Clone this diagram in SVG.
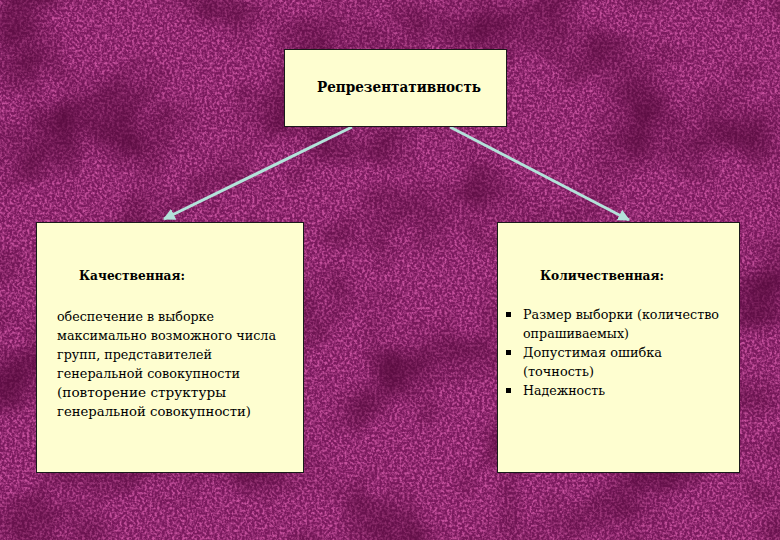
<svg xmlns="http://www.w3.org/2000/svg" width="780" height="540" viewBox="0 0 780 540">
<defs>
<filter id="tex" x="0" y="0" width="780" height="540" filterUnits="userSpaceOnUse" color-interpolation-filters="sRGB">
<feTurbulence type="fractalNoise" baseFrequency="0.4" numOctaves="2" seed="3" result="n"/>
<feColorMatrix in="n" type="matrix" values="0 0 0 0 0.78  0 0 0 0 0.32  0 0 0 0 0.62  2.8 0 0 0 -1.1" result="spk"/>
<feTurbulence type="fractalNoise" baseFrequency="0.012" numOctaves="3" seed="11" result="m"/>
<feColorMatrix in="m" type="matrix" values="0 0 0 0 0.32  0 0 0 0 0.03  0 0 0 0 0.22  1.9 0 0 0 -0.85" result="dark"/>
<feMerge><feMergeNode in="SourceGraphic"/><feMergeNode in="spk"/><feMergeNode in="dark"/></feMerge>
</filter>
<marker id="arr" viewBox="0 0 10 10" refX="9" refY="5" markerWidth="4" markerHeight="4" orient="auto" markerUnits="strokeWidth">
<path d="M0,0 L10,5 L0,10 z" fill="#b4e2da"/>
</marker>
<style>
.box{fill:#fefed0;stroke:#1a1a1a;stroke-width:1}
.conn{stroke:#b4e2da;stroke-width:3;fill:none}
.t{font-size:14px;font-weight:bold}
.h{font-size:13px;font-weight:bold}
.b{font-size:13px}
</style>
</defs>
<rect width="780" height="540" fill="#7a1a5e" filter="url(#tex)"/>
<g id="connectors">
<line class="conn" x1="352" y1="127" x2="164" y2="219" marker-end="url(#arr)"/>
<line class="conn" x1="450" y1="127" x2="629" y2="220" marker-end="url(#arr)"/>
</g>
<g fill="#000" font-family="DejaVu Serif, serif">
<g id="node-top">
<rect class="box" x="284.5" y="49.5" width="222" height="77"/>
<text class="t" x="317" y="92" textLength="164" lengthAdjust="spacingAndGlyphs">Репрезентативность</text>
</g>
<g id="node-left">
<rect class="box" x="36.5" y="222.5" width="267" height="250"/>
<text class="h" x="79" y="280" textLength="106" lengthAdjust="spacingAndGlyphs">Качественная:</text>
<text class="b" x="57" y="321" textLength="157" lengthAdjust="spacingAndGlyphs">обеспечение в выборке</text>
<text class="b" x="57" y="340" textLength="219" lengthAdjust="spacingAndGlyphs">максимально возможного числа</text>
<text class="b" x="57" y="359" textLength="155" lengthAdjust="spacingAndGlyphs">групп, представителей</text>
<text class="b" x="57" y="378" textLength="183" lengthAdjust="spacingAndGlyphs">генеральной совокупности</text>
<text class="b" x="57" y="397" textLength="169" lengthAdjust="spacingAndGlyphs">(повторение структуры</text>
<text class="b" x="57" y="416" textLength="194" lengthAdjust="spacingAndGlyphs">генеральной совокупности)</text>
</g>
<g id="node-right">
<rect class="box" x="497.5" y="222.5" width="242" height="250"/>
<text class="h" x="540" y="280" textLength="124" lengthAdjust="spacingAndGlyphs">Количественная:</text>
<rect x="506" y="312" width="5" height="5" fill="#000"/>
<text class="b" x="523" y="319" textLength="196" lengthAdjust="spacingAndGlyphs">Размер выборки (количество</text>
<text class="b" x="523" y="338" textLength="106" lengthAdjust="spacingAndGlyphs">опрашиваемых)</text>
<rect x="506" y="350" width="5" height="5" fill="#000"/>
<text class="b" x="523" y="357" textLength="139" lengthAdjust="spacingAndGlyphs">Допустимая ошибка</text>
<text class="b" x="523" y="376" textLength="71" lengthAdjust="spacingAndGlyphs">(точность)</text>
<rect x="506" y="388" width="5" height="5" fill="#000"/>
<text class="b" x="523" y="395" textLength="82" lengthAdjust="spacingAndGlyphs">Надежность</text>
</g>
</g>
</svg>
